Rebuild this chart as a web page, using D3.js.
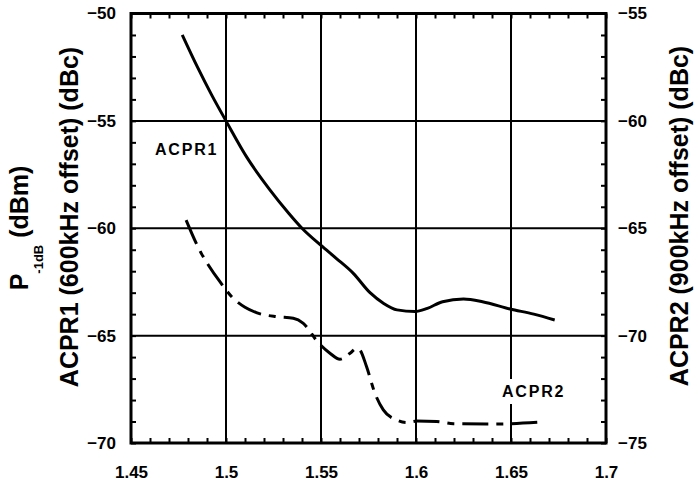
<!DOCTYPE html>
<html>
<head>
<meta charset="utf-8">
<script src="https://cdn.jsdelivr.net/npm/d3@7"></script>
<style>
  html, body { margin: 0; padding: 0; background: #fff; }
  svg { display: block; }
  svg text { font-family: "Liberation Sans", Arial, sans-serif; font-weight: bold; fill: #000; }
</style>
</head>
<body>
<svg id="chart" width="698" height="484"></svg>
<script>
// ---- Data ----
const xTicks = [1.45, 1.5, 1.55, 1.6, 1.65, 1.7];
const xTickLabels = ["1.45", "1.5", "1.55", "1.6", "1.65", "1.7"];
const yLeftTicks = [-70, -65, -60, -55, -50];
const yRightTicks = [-75, -70, -65, -60, -55];

// ACPR1 (left axis, dBc)
const acpr1Freq = [1.477, 1.485, 1.4925, 1.5, 1.511, 1.523, 1.533, 1.540, 1.550, 1.558, 1.567, 1.5758, 1.583, 1.590, 1.5995, 1.606, 1.614, 1.625, 1.635, 1.6495, 1.662, 1.673];
const acpr1Val  = [-51.0, -52.5, -53.8, -55.0, -56.7, -58.2, -59.3, -60.0, -60.8, -61.4, -62.1, -63.0, -63.5, -63.8, -63.88, -63.73, -63.42, -63.3, -63.42, -63.76, -64.0, -64.27];

// ACPR2 (right axis, dBc)
const acpr2Freq = [1.479, 1.487, 1.4907, 1.4968, 1.503, 1.510, 1.516, 1.5267, 1.5354, 1.5407, 1.5486, 1.5547, 1.560, 1.5653, 1.5688, 1.5705, 1.574, 1.5784, 1.5828, 1.5898, 1.595, 1.6004, 1.6109, 1.6197, 1.6372, 1.650, 1.668];
const acpr2Val  = [-64.62, -66.17, -66.71, -67.49, -68.19, -68.68, -68.93, -69.12, -69.19, -69.43, -70.33, -70.82, -71.1, -70.82, -70.59, -70.67, -71.45, -72.69, -73.46, -73.93, -74.05, -73.98, -74.0, -74.1, -74.12, -74.1, -74.01];

// ---- Layout ----
const L = 131, R = 606, T = 13.5, B = 443;
const svg = d3.select("#chart");

const x = d3.scaleLinear().domain([1.45, 1.7]).range([L, R]);
const yL = d3.scaleLinear().domain([-70, -50]).range([B, T]);
const yR = d3.scaleLinear().domain([-75, -55]).range([B, T]);

// Gridlines
const g = svg.append("g");
g.selectAll(".vg").data(xTicks.slice(1, -1)).join("line")
  .attr("x1", d => x(d)).attr("x2", d => x(d)).attr("y1", T).attr("y2", B)
  .attr("stroke", "#000").attr("stroke-width", 2);
g.selectAll(".hg").data(yLeftTicks.slice(1, -1)).join("line")
  .attr("x1", L).attr("x2", R).attr("y1", d => yL(d)).attr("y2", d => yL(d))
  .attr("stroke", "#000").attr("stroke-width", 2);

// Minor ticks (inward) via axes
function styleMinor(sel) {
  sel.select(".domain").remove();
  sel.selectAll(".tick line").attr("stroke", "#000").attr("stroke-width", 2);
  sel.selectAll(".tick text").remove();
}
const xMinor = d3.range(0, 26).map(i => 1.45 + i * 0.01);
const yMinorL = d3.range(-70, -49, 1);
svg.append("g").attr("transform", `translate(0,${B})`)
  .call(d3.axisBottom(x).tickValues(xMinor).tickSize(-5).tickFormat("")).call(styleMinor);
svg.append("g").attr("transform", `translate(0,${T})`)
  .call(d3.axisTop(x).tickValues(xMinor).tickSize(-5).tickFormat("")).call(styleMinor);
svg.append("g").attr("transform", `translate(${L},0)`)
  .call(d3.axisLeft(yL).tickValues(yMinorL).tickSize(-5).tickFormat("")).call(styleMinor);
svg.append("g").attr("transform", `translate(${R},0)`)
  .call(d3.axisRight(yR).tickValues(d3.range(-75, -54, 1)).tickSize(-5).tickFormat("")).call(styleMinor);

// Frame
svg.append("rect").attr("x", L).attr("y", T).attr("width", R - L).attr("height", B - T)
  .attr("fill", "none").attr("stroke", "#000").attr("stroke-width", 3);

// Tick labels
function styleLabels(sel) {
  sel.select(".domain").remove();
  sel.selectAll(".tick line").remove();
  sel.attr("font-family", null).attr("font-size", null);
  sel.selectAll(".tick text").style("font-size", "17px").style("font-weight", "bold");
}
svg.append("g").attr("transform", `translate(0,${B})`)
  .call(d3.axisBottom(x).tickValues(xTicks).tickSize(0).tickPadding(23)
    .tickFormat((d, i) => xTickLabels[i])).call(styleLabels);
svg.append("g").attr("transform", `translate(116,0)`)
  .call(d3.axisLeft(yL).tickValues(yLeftTicks).tickSize(0).tickPadding(0)
    .tickFormat(d3.format("d"))).call(styleLabels);
svg.append("g").attr("transform", `translate(618,0)`)
  .call(d3.axisRight(yR).tickValues(yRightTicks).tickSize(0).tickPadding(0)
    .tickFormat(d3.format("d"))).call(styleLabels);

// Curves
const line1 = d3.line().x(d => x(d[0])).y(d => yL(d[1])).curve(d3.curveMonotoneX);
const line2 = d3.line().x(d => x(d[0])).y(d => yR(d[1])).curve(d3.curveMonotoneX);
svg.append("path").datum(d3.zip(acpr1Freq, acpr1Val)).attr("d", line1)
  .attr("fill", "none").attr("stroke", "#000").attr("stroke-width", 3).attr("stroke-linecap", "butt");
svg.append("path").datum(d3.zip(acpr2Freq, acpr2Val)).attr("d", line2)
  .attr("fill", "none").attr("stroke", "#000").attr("stroke-width", 3)
  .attr("stroke-dasharray", "26,8,7,8");

// In-plot labels
svg.append("text").attr("x", 155).attr("y", 155).style("font-size", "16px")
  .attr("letter-spacing", 1.8).text("ACPR1");
const bgRect = svg.append("rect").attr("fill", "#fff");
const lab2 = svg.append("text").attr("x", 502).attr("y", 397).style("font-size", "16px")
  .attr("letter-spacing", 1.8).text("ACPR2");
const bb = lab2.node().getBBox();
bgRect.attr("x", bb.x - 2).attr("y", bb.y - 4).attr("width", bb.width + 4).attr("height", bb.height + 8);

// Axis titles
svg.append("text").attr("transform", "translate(78,217) rotate(-90)")
  .attr("text-anchor", "middle").style("font-size", "25px").text("ACPR1 (600kHz offset) (dBc)");
const pt = svg.append("text").attr("transform", "translate(28,228) rotate(-90)")
  .attr("text-anchor", "middle").style("font-size", "25px");
pt.append("tspan").text("P");
pt.append("tspan").style("font-size", "13px").attr("dy", 15).text("-1dB");
pt.append("tspan").attr("dy", -15).text("\u00a0(dBm)");
svg.append("text").attr("transform", "translate(688,216) rotate(-90)")
  .attr("text-anchor", "middle").style("font-size", "25px").text("ACPR2 (900kHz offset) (dBc)");
</script>
</body>
</html>
